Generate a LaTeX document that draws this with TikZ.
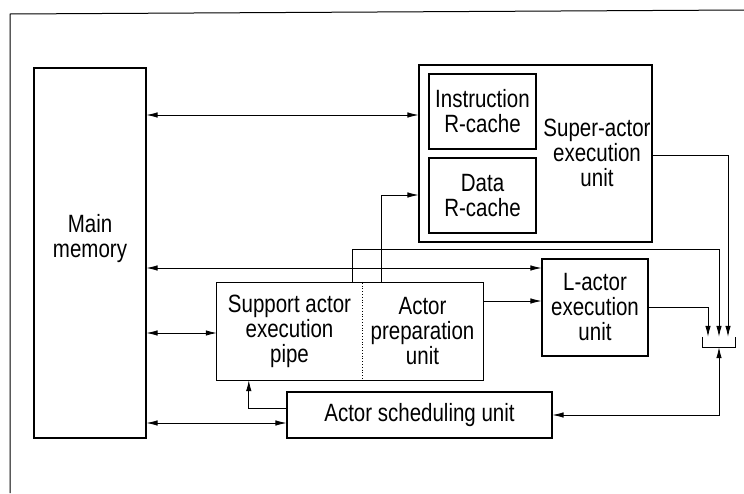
\documentclass[tikz,border=0pt]{standalone}
\usepackage{fontspec}
\setmainfont{Liberation Sans}[FakeStretch=0.82]
\usetikzlibrary{arrows.meta}
\begin{document}
\begin{tikzpicture}[x=1pt,y=-1pt,
  >={Latex[length=11pt,width=5.5pt]},
  box/.style={draw, line width=1.1pt, inner sep=0pt},
  txt/.style={align=center, inner sep=0pt, font=\fontsize{25}{25}\selectfont},
  conn/.style={line width=0.8pt},
  frameline/.style={line width=1pt}]
\useasboundingbox (0,0) rectangle (744,493);
% frame
\draw[frameline] (10,493) -- (10,14) -- (744,10);
% nodes
\node[box, minimum width=112pt, minimum height=370pt] (mm) at (90,253) {};
\node[txt] (mmtxt) at (90,239) {Main\\memory};
\node[box, minimum width=233pt, minimum height=177pt] (super) at (535.5,153.5) {};
\node[txt] (supertxt) at (597,153) {Super-actor\\execution\\unit};
\node[box, txt, minimum width=107pt, minimum height=75pt] (instr) at (482.5,111.5) {Instruction\\R-cache};
\node[box, txt, minimum width=107pt, minimum height=75pt] (data) at (482.5,195.5) {Data\\R-cache};
\node[txt, minimum width=145pt, minimum height=97pt] (support) at (289.5,331.5) {Support actor\\execution\\pipe};
\node[txt, minimum width=121pt, minimum height=97pt] (prep) at (422.5,331.5) {Actor\\preparation\\unit};
\draw[line width=1.1pt] (support.north west) rectangle (prep.south east);
\draw[dotted, line width=0.8pt] (support.north east) -- (support.south east);
\node[box, txt, minimum width=106pt, minimum height=97pt] (lact) at (595,307.5) {L-actor\\execution\\unit};
\node[box, txt, minimum width=265pt, minimum height=46pt] (sched) at (419.5,415) {Actor scheduling unit};
\node[minimum width=32pt, minimum height=10pt, inner sep=0pt] (merge) at (719,342) {};
\draw[conn] (merge.north west) -- (merge.south west) -- (merge.south east) -- (merge.north east);
% connectors from main memory
\draw[conn,<->] (mm.east |- 0,115) -- (super.west |- 0,115);
\draw[conn,<->] (mm.east |- 0,268) -- (lact.west |- 0,268);
\draw[conn,<->] (mm.east |- 0,333) -- (support.west |- 0,333);
\draw[conn,<->] (mm.east |- 0,423) -- (sched.west |- 0,423);
% internal connectors
\draw[conn,->] ([xshift=20pt]prep.north west) |- (super.west |- 0,195);
\draw[conn,->] ([xshift=-10pt]support.north east) -- ++(0,-33) -| (merge.north);
\draw[conn,->] (super.east |- 0,155) -| ([xshift=9pt]merge.north);
\draw[conn,->] (lact.east) -| ([xshift=-11pt]merge.north);
\draw[conn,->] (prep.east |- 0,301) -- (lact.west |- 0,301);
\draw[conn,<->] (merge.south) |- (sched.east);
\draw[conn,->] (sched.west |- 0,408) -| ([xshift=32pt]support.south west);
\end{tikzpicture}
\end{document}
